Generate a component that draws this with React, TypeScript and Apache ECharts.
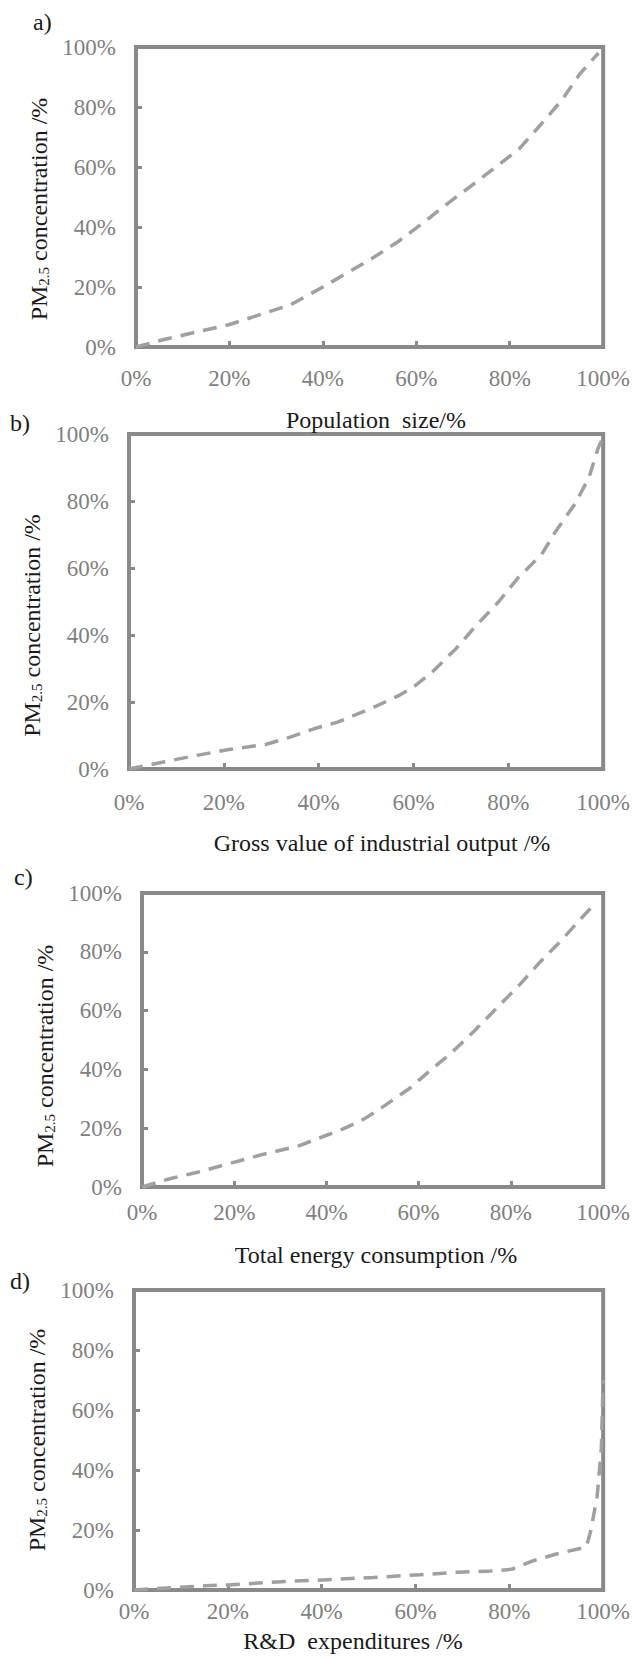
import React, { useEffect, useRef } from "react";
import * as echarts from "echarts";

const tickLabels = ["0%", "20%", "40%", "60%", "80%", "100%"];
const panelLabels = ["a)", "b)", "c)", "d)"];
const xNames = [
  "Population  size/%",
  "Gross value of industrial output /%",
  "Total energy consumption /%",
  "R&D  expenditures /%",
];
const yName = "PM{sub|2.5} concentration /%";

const seriesA = [[0,0],[6,2.5],[13,5],[20,7.5],[27,11],[33,14],[40,20],[50,29],[56,35],[62,42],[66,47],[72,54],[77,60],[82,66],[86,73],[91,82],[95,91],[99,98]];
const seriesB = [[0,0],[7,2],[14,4],[21,5.8],[29,7.4],[34,9.5],[39,12],[44,14],[51,18],[57,22],[60,24.5],[64,29],[69,36],[73,42.5],[78,50],[82,57],[87,64],[90,71],[94,79],[97,87],[99,96],[100,99]];
const seriesC = [[0,0],[6,2.8],[12,5],[19,8],[26,11],[34,14],[40,17.6],[44,20],[48,23],[52,27],[58,33.5],[62,39],[67,45.5],[72,53],[77,61],[82,69],[86,76],[91,84],[95,91],[98,96]];
const seriesD = [[0,0],[6,0.6],[15,1.4],[20,1.7],[33,2.9],[41,3.4],[51,4.2],[61,5.1],[69,5.9],[76,6.3],[80.5,6.9],[85,9.7],[90,12],[96.4,14.3],[97.3,19.4],[98.7,31],[99.6,47],[100,70]];
const allSeries = [seriesA, seriesB, seriesC, seriesD];

// layout (px)
const grids = [
  { left: 136, top: 47, width: 477, height: 300 },
  { left: 129, top: 434, width: 488, height: 335 },
  { left: 142, top: 893, width: 466, height: 294 },
  { left: 134, top: 1290, width: 482, height: 300 },
];
const xLabelMargin = [20, 22, 14, 10];
const xNamePos = [
  { x: 376, y: 420 },
  { x: 382, y: 843 },
  { x: 376, y: 1255 },
  { x: 353, y: 1641 },
];
const yNameGap = [78, 72, 81, 73];
const yNameShiftDown = [12, 24, 16, 0];
const panelLabelPos = [
  { x: 33, y: 22 },
  { x: 10, y: 423 },
  { x: 14, y: 877 },
  { x: 10, y: 1281 },
];

const FONT = "Liberation Serif";
const BORDER = "#8a8a8a";
const LINE = "#a0a0a0";
const TICKTXT = "#808080";

export default function App() {
  const ref = useRef<HTMLDivElement>(null);
  useEffect(() => {
    if (!ref.current) return;
    const chart = echarts.init(ref.current, undefined, { renderer: "svg" });
    const option: any = {
      animation: false,
      backgroundColor: "#ffffff",
      grid: grids.map((g) => ({
        ...g,
        show: true,
        borderColor: BORDER,
        borderWidth: 4,
        backgroundColor: "transparent",
      })),
      xAxis: grids.map((_, i) => ({
        type: "value",
        gridIndex: i,
        min: 0,
        max: 100,
        interval: 20,
        axisLine: { show: true, lineStyle: { color: BORDER, width: 4 } },
        axisTick: { show: true, inside: true, length: 6, lineStyle: { color: BORDER, width: 3 } },
        splitLine: { show: false },
        axisLabel: {
          margin: xLabelMargin[i],
          fontFamily: FONT,
          fontSize: 23,
          color: TICKTXT,
          formatter: (v: number) => tickLabels[Math.round(v / 20)],
        },
      })),
      yAxis: grids.map((_, i) => ({
        type: "value",
        gridIndex: i,
        min: 0,
        max: 100,
        interval: 20,
        name: yName,
        nameLocation: "middle",
        nameGap: yNameGap[i],
        nameRotate: 90,
        nameTextStyle: {
          fontFamily: FONT,
          fontSize: 24,
          color: "#1a1a1a",
          padding: [0, yNameShiftDown[i] * 2, 0, 0],
          rich: {
            sub: { fontFamily: FONT, fontSize: 15, color: "#1a1a1a", verticalAlign: "bottom", padding: [10, 0, 0, 0] },
          },
        },
        axisLine: { show: true, lineStyle: { color: BORDER, width: 4 } },
        axisTick: { show: true, inside: true, length: 6, lineStyle: { color: BORDER, width: 3 } },
        splitLine: { show: false },
        axisLabel: {
          margin: 20,
          fontFamily: FONT,
          fontSize: 23,
          color: TICKTXT,
          formatter: (v: number) => tickLabels[Math.round(v / 20)],
        },
      })),
      series: allSeries.map((d, i) => ({
        type: "line",
        xAxisIndex: i,
        yAxisIndex: i,
        data: d,
        showSymbol: false,
        symbol: "none",
        smooth: false,
        lineStyle: { color: LINE, width: 3.5, type: [14, 9] },
      })),
      graphic: [
        ...panelLabels.map((t, i) => ({
          type: "text",
          x: panelLabelPos[i].x,
          y: panelLabelPos[i].y,
          style: { text: t, fontFamily: FONT, fontSize: 24, fill: "#1a1a1a", verticalAlign: "middle" },
        })),
        ...xNames.map((t, i) => ({
          type: "text",
          x: xNamePos[i].x,
          y: xNamePos[i].y,
          style: {
            text: t,
            fontFamily: FONT,
            fontSize: 24,
            fill: "#1a1a1a",
            align: "center",
            verticalAlign: "middle",
          },
        })),
      ],
    };
    chart.setOption(option);
    return () => chart.dispose();
  }, []);
  return (
    <div
      ref={ref}
      style={{ position: "absolute", left: 0, top: 0, width: 633, height: 1658 }}
    />
  );
}
